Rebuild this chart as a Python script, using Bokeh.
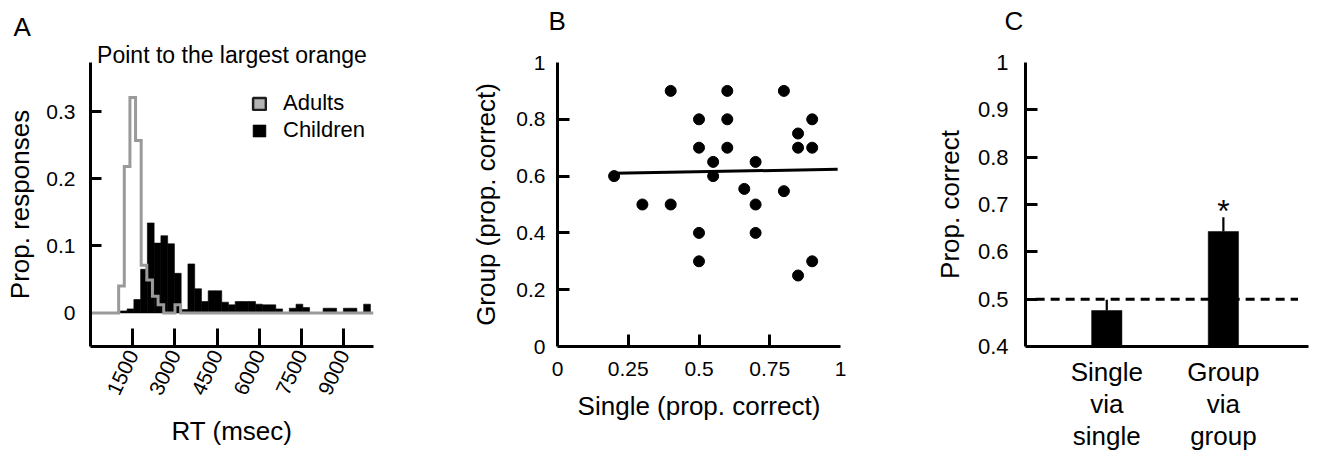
import numpy as np
from bokeh.plotting import figure
from bokeh.models import (Range1d, FixedTicker, Legend, LegendItem, Title)
from bokeh.layouts import row
from bokeh.embed import file_html
from bokeh.resources import INLINE
from bokeh.core.properties import value

FONT = "Liberation Sans"

# ---------------- Panel A data: RT histograms ----------------
adult_bin_start = 1000      # ms
adult_bin_width = 200       # ms
adult_props = [0.040, 0.218, 0.321, 0.257, 0.071, 0.049, 0.025, 0.012, 0.0, 0.0, 0.012]

child_bin_start = 1060      # ms
child_bin_width = 240       # ms
child_props = [0.003, 0.006, 0.020, 0.065, 0.134, 0.104, 0.115, 0.103, 0.059, 0.005,
               0.073, 0.036, 0.017, 0.033, 0.033, 0.016, 0.012, 0.017, 0.017, 0.017,
               0.013, 0.012, 0.012, 0.006, 0.000, 0.007, 0.013, 0.008, 0.000, 0.000,
               0.007, 0.007, 0.000, 0.007, 0.007, 0.000, 0.013]

rt_max = 10050
rt_ticks = [1500, 3000, 4500, 6000, 7500, 9000]
propA_ticks = [0, 0.1, 0.2, 0.3]
propA_labels = ["0", "0.1", "0.2", "0.3"]

# ---------------- Panel B data: scatter ----------------
single_correct = [0.40, 0.60, 0.80, 0.50, 0.60, 0.90, 0.85, 0.50, 0.60, 0.85, 0.90, 0.55, 0.70,
                  0.20, 0.55, 0.66, 0.80, 0.30, 0.40, 0.70, 0.50, 0.70, 0.50, 0.90, 0.85]
group_correct = [0.90, 0.90, 0.90, 0.80, 0.80, 0.80, 0.75, 0.70, 0.70, 0.70, 0.70, 0.65, 0.65,
                 0.60, 0.60, 0.555, 0.547, 0.50, 0.50, 0.50, 0.40, 0.40, 0.30, 0.30, 0.25]
fit_x = [0.20, 0.99]
fit_y = [0.610, 0.624]
b_x_ticks = [0, 0.25, 0.5, 0.75, 1]
b_x_labels = ["0", "0.25", "0.5", "0.75", "1"]
b_y_ticks = [0, 0.2, 0.4, 0.6, 0.8, 1]
b_y_labels = ["0", "0.2", "0.4", "0.6", "0.8", "1"]

# ---------------- Panel C data: bars ----------------
conditions = ["Single\nvia\nsingle", "Group\nvia\ngroup"]
cond_pos = [1, 2]
mean_correct = [0.476, 0.643]
sem_correct = [0.023, 0.030]
chance_level = 0.5
chance_x = [0.39, 2.64]
sig_pos = [2]
sig_y = [0.687]
c_y_ticks = [0.4, 0.5, 0.6, 0.7, 0.8, 0.9, 1.0]
c_y_labels = ["0.4", "0.5", "0.6", "0.7", "0.8", "0.9", "1"]

ADULT_GRAY = "#9a9a9a"
FIG_H = 454
TOP = 62
BOTTOM = 108


def base_fig(width, left, right, xr, yr):
    p = figure(width=width, height=FIG_H, output_backend="svg", toolbar_location=None,
               x_range=xr, y_range=yr, min_border_left=left, min_border_right=right,
               min_border_top=TOP, min_border_bottom=BOTTOM, tools="")
    p.outline_line_color = None
    p.xgrid.visible = False
    p.ygrid.visible = False
    p.background_fill_color = "white"
    p.border_fill_color = "white"
    return p


def style_axis(ax, tick_size, tick_in=0, minor_in=0):
    ax.axis_line_width = 3
    ax.axis_line_color = "black"
    ax.major_tick_line_width = 3
    ax.minor_tick_line_width = 3
    ax.major_tick_line_color = "black"
    ax.minor_tick_line_color = "black"
    ax.major_tick_out = 0
    ax.minor_tick_out = 0
    ax.major_tick_in = tick_in
    ax.minor_tick_in = minor_in
    ax.major_label_text_font = FONT
    ax.major_label_text_font_size = f"{tick_size}px"
    ax.major_label_text_color = "black"
    ax.axis_label_text_font = FONT
    ax.axis_label_text_font_size = "26px"
    ax.axis_label_text_font_style = "normal"
    ax.axis_label_text_color = "black"


def add_title(p, text, size, align, offset, standoff):
    p.add_layout(Title(text=text, text_font=FONT, text_font_size=f"{size}px",
                       text_font_style="normal", text_color="black", align=align,
                       offset=offset, standoff=standoff), "above")


# ================= Panel A =================
pA = base_fig(468, 90, 95, Range1d(0, rt_max), Range1d(-0.050, 0.373))

c_left = child_bin_start + child_bin_width * np.arange(len(child_props))
c_right = c_left + child_bin_width
child_r = pA.quad(left=c_left, right=c_right, top=child_props, bottom=0,
                  fill_color="black", line_color="black", line_width=0.6)

a_left = adult_bin_start + adult_bin_width * np.arange(len(adult_props))
a_x = [0] + list(a_left) + [a_left[-1] + adult_bin_width, rt_max]
a_y = [0] + list(adult_props) + [0, 0]
pA.step(x=a_x, y=a_y, mode="after", line_color=ADULT_GRAY, line_width=3, line_join="miter")

# legend swatch for adults (gray box, dark outline): hidden renderer, shown only in legend
adult_proxy = pA.quad(left=a_left, right=a_left + adult_bin_width, top=adult_props, bottom=0,
                      fill_color="#b4b4b4", line_color="#1e1e1e", line_width=2.5,
                      visible=False)

leg = Legend(items=[LegendItem(label="Adults", renderers=[adult_proxy]),
                    LegendItem(label="Children", renderers=[child_r])],
             location=(161, 203))
leg.border_line_color = None
leg.background_fill_alpha = 0
leg.inactive_fill_alpha = 0
leg.padding = 0
leg.margin = 0
leg.glyph_width = 16
leg.glyph_height = 15
leg.label_standoff = 16
leg.spacing = 1
leg.label_text_font = FONT
leg.label_text_font_size = "22px"
leg.label_text_color = "black"
leg.label_height = 22
pA.add_layout(leg)

pA.xaxis.ticker = FixedTicker(ticks=rt_ticks)
pA.xaxis.axis_label = "RT (msec)"
pA.xaxis.major_label_orientation = 1.134
style_axis(pA.xaxis[0], 21, tick_in=18)
pA.xaxis.major_label_standoff = 5
pA.xaxis.axis_label_standoff = 13

pA.yaxis.ticker = FixedTicker(ticks=propA_ticks, minor_ticks=propA_ticks[1:])
pA.yaxis.major_label_overrides = dict(zip(propA_ticks, propA_labels))
pA.yaxis.axis_label = "Prop. responses"
style_axis(pA.yaxis[0], 21, tick_in=0, minor_in=11)
pA.yaxis.major_label_standoff = 15
pA.yaxis.axis_label_standoff = 8

add_title(pA, "Point to the largest orange", 23, "center", 0, -11)
add_title(pA, "A", 26, "left", -77, 7)

# ================= Panel B =================
pB = base_fig(460, 89, 88, Range1d(0, 1), Range1d(0, 1))
pB.scatter(x=single_correct, y=group_correct, size=11, fill_color="black", line_color="black")
pB.line(x=fit_x, y=fit_y, line_color="black", line_width=3)

pB.xaxis.ticker = FixedTicker(ticks=b_x_ticks, minor_ticks=b_x_ticks[1:-1])
pB.xaxis.major_label_overrides = dict(zip(b_x_ticks, b_x_labels))
pB.xaxis.axis_label = "Single (prop. correct)"
style_axis(pB.xaxis[0], 21, tick_in=0, minor_in=12)
pB.xaxis.major_label_standoff = 15
pB.xaxis.axis_label_standoff = 12

pB.yaxis.ticker = FixedTicker(ticks=b_y_ticks, minor_ticks=b_y_ticks[1:-1])
pB.yaxis.major_label_overrides = dict(zip(b_y_ticks, b_y_labels))
pB.yaxis.axis_label = "Group (prop. correct)"
style_axis(pB.yaxis[0], 21, tick_in=0, minor_in=12)
pB.yaxis.major_label_standoff = 12
pB.yaxis.axis_label_standoff = 12

add_title(pB, " ", 1, "left", 0, 24)     # spacer between frame and panel letter
add_title(pB, "B", 26, "left", -9, 0)

# ================= Panel C =================
pC = base_fig(388, 97, 8, Range1d(0.303, 2.73), Range1d(0.4, 1.0))
pC.line(x=chance_x, y=[chance_level, chance_level], line_color="black", line_width=3,
        line_dash="9 6")
err_top = [m + s for m, s in zip(mean_correct, sem_correct)]
pC.segment(x0=cond_pos, y0=mean_correct, x1=cond_pos, y1=err_top, line_color="black",
           line_width=2.2)
pC.vbar(x=cond_pos, top=mean_correct, bottom=0.4, width=0.26, fill_color="black",
        line_color="black", line_width=0.5)
pC.text(x=sig_pos, y=sig_y, text=["*"], text_font=value(FONT), text_font_size="32px",
        text_align="center", text_baseline="alphabetic", text_color="black")

pC.xaxis.ticker = FixedTicker(ticks=cond_pos)
pC.xaxis.major_label_overrides = dict(zip(cond_pos, conditions))
style_axis(pC.xaxis[0], 26, tick_in=0)
pC.xaxis.major_label_text_line_height = 1.07
pC.xaxis.major_label_standoff = 10

pC.yaxis.ticker = FixedTicker(ticks=c_y_ticks, minor_ticks=c_y_ticks[1:-1])
pC.yaxis.major_label_overrides = dict(zip(c_y_ticks, c_y_labels))
pC.yaxis.axis_label = "Prop. correct"
style_axis(pC.yaxis[0], 22, tick_in=0, minor_in=12)
pC.yaxis.major_label_standoff = 17
pC.yaxis.axis_label_standoff = 10

add_title(pC, " ", 1, "left", 0, 24)     # spacer between frame and panel letter
add_title(pC, "C", 26, "left", -21, 0)

layout = row(pA, pB, pC)
open("out.html", "w").write(file_html(layout, INLINE))
